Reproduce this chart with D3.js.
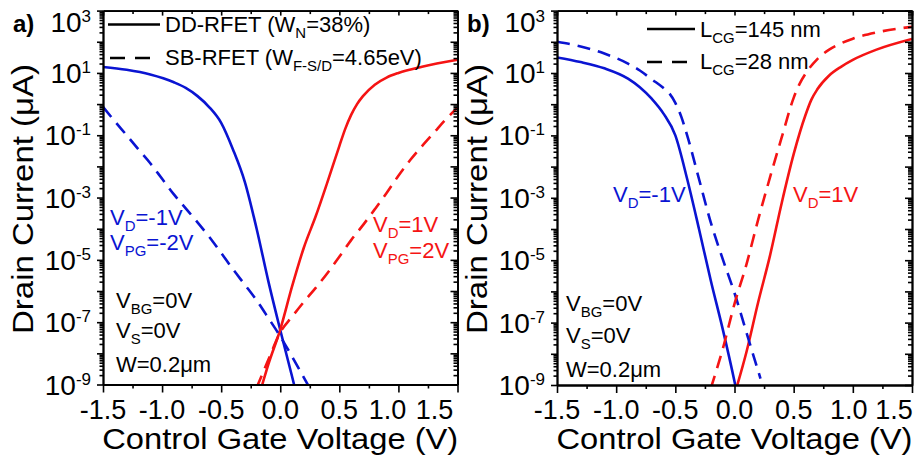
<!DOCTYPE html>
<html>
<head>
<meta charset="utf-8">
<script src="https://cdn.jsdelivr.net/npm/d3@7/dist/d3.min.js"></script>
<style>
  body { margin: 0; background: #fff; }
  svg text { font-family: "Liberation Sans", Arial, sans-serif; }
</style>
</head>
<body>
<svg id="chart" width="921" height="458"></svg>
<script>
// ---- data (drain current in uA vs control gate voltage in V) ----
// panel a) DD-RFET (solid) and SB-RFET (dashed)
var aDDpV = [-1.5, -1.3, -1.1, -0.9, -0.8, -0.7, -0.6, -0.5, -0.4, -0.3, -0.2, -0.1, 0, 0.1, 0.12];
var aDDpI = [15.5, 12.6, 8.9, 5.0, 3.3, 1.8, 0.79, 0.25, 0.035, 3.2e-3, 1.0e-4, 2.0e-6, 5.6e-8, 1.8e-9, 8.9e-10];
var aDDnV = [-0.16, -0.1, 0, 0.1, 0.2, 0.3, 0.4, 0.5, 0.55, 0.6, 0.65, 0.7, 0.8, 0.9, 1.0, 1.2, 1.5];
var aDDnI = [7.9e-10, 4.5e-9, 5.8e-8, 1.4e-6, 2.5e-5, 2.5e-4, 3.2e-3, 0.045, 0.16, 0.45, 1.0, 1.8, 4.2, 7.1, 10, 15.8, 26.3];
var aSBpV = [-1.5, -1.4, -1.3, -1.2, -1.1, -1.0, -0.9, -0.8, -0.7, -0.6, -0.5, -0.4, -0.3, -0.2, -0.1, 0, 0.1, 0.2, 0.25];
var aSBpI = [0.81, 0.28, 0.1, 0.035, 0.0126, 4.0e-3, 1.26e-3, 4.5e-4, 1.6e-4, 5.4e-5, 1.66e-5, 5.0e-6, 1.6e-6, 5.0e-7, 1.35e-7, 3.5e-8, 7.9e-9, 1.66e-9, 7.6e-10];
var aSBnV = [-0.2, -0.1, 0, 0.1, 0.2, 0.3, 0.4, 0.5, 0.6, 0.7, 0.8, 0.9, 1.0, 1.1, 1.2, 1.3, 1.4, 1.5];
var aSBnI = [7.9e-10, 6.3e-9, 4.7e-8, 1.5e-7, 4.5e-7, 1.26e-6, 3.8e-6, 1.26e-5, 4.3e-5, 1.3e-4, 4.2e-4, 1.4e-3, 5.0e-3, 0.016, 0.045, 0.12, 0.32, 0.76];

// panel b) L_CG = 145 nm (solid) and 28 nm (dashed)
var bLongPV = [-1.5, -1.3, -1.1, -0.9, -0.8, -0.7, -0.6, -0.5, -0.4, -0.3, -0.2, -0.1, 0, 0.02];
var bLongPI = [31.6, 22.4, 14.1, 6.6, 3.5, 1.5, 0.5, 0.1, 4.0e-3, 1.0e-4, 2.2e-6, 6.3e-8, 1.3e-9, 5.6e-10];
var bShortPV = [-1.5, -1.3, -1.1, -0.9, -0.8, -0.7, -0.6, -0.55, -0.5, -0.45, -0.4, -0.3, -0.2, -0.1, 0, 0.1, 0.2, 0.22];
var bShortPI = [100, 71, 42, 20, 12, 6.3, 3.3, 2.2, 1.1, 0.4, 0.1, 4.0e-3, 1.6e-4, 1.1e-5, 8.9e-7, 5.0e-8, 2.8e-9, 1.6e-9];
var bLongNV = [0.02, 0.1, 0.2, 0.3, 0.4, 0.5, 0.6, 0.65, 0.7, 0.8, 0.9, 1.0, 1.2, 1.5];
var bLongNI = [8.9e-10, 1.1e-8, 4.5e-7, 1.4e-5, 7.1e-4, 0.025, 0.45, 1.4, 3.0, 8.3, 15.8, 26.3, 56, 123];
var bShortNV = [-0.2, -0.1, 0, 0.1, 0.2, 0.3, 0.4, 0.5, 0.55, 0.6, 0.7, 0.8, 0.9, 1.0, 1.2, 1.5];
var bShortNI = [7.9e-10, 1.4e-8, 4.0e-7, 7.1e-6, 2.0e-4, 4.5e-3, 0.089, 1.6, 4.5, 9.5, 28, 56, 89, 126, 200, 302];

// axis ticks
var xTicks = [-1.5, -1.0, -0.5, 0.0, 0.5, 1.0, 1.5];
var yExps = [-9, -7, -5, -3, -1, 1, 3];

var BLUE = "#0a14d2";
var RED = "#f51414";
var svg = d3.select("#chart");
svg.append("rect").attr("width", 921).attr("height", 458).attr("fill", "#fff");

function zip(v, i) {
  return v.map(function(d, k) { return {v: d, i: i[k]}; });
}

// text with alternating normal / subscript parts: ["V", "D", "=-1V"]
function richText(g, x, y, parts, size, color) {
  var t = g.append("text").attr("x", x).attr("y", y)
    .attr("font-size", size).attr("fill", color);
  var shift = Math.round(size * 0.28);
  parts.forEach(function(p, k) {
    if (!p) return;
    var s = t.append("tspan").text(p);
    if (k % 2 == 1) {
      s.attr("font-size", size * 0.68).attr("dy", shift);
    } else if (k > 0) {
      s.attr("dy", -shift);
    }
  });
  return t;
}

function drawPanel(p) {
  var x = d3.scaleLinear().domain([-1.5, 1.5]).range([p.left, p.right]);
  var y = d3.scaleLog().domain([1e-9, 1e3]).range([p.bottom, p.top]);
  var g = svg.append("g");

  var clipId = "clip" + p.name;
  svg.append("clipPath").attr("id", clipId)
    .append("rect").attr("x", p.left).attr("y", p.top)
    .attr("width", p.right - p.left).attr("height", p.bottom - p.top);

  var line = d3.line()
    .x(function(d) { return x(d.v); })
    .y(function(d) { return y(d.i); })
    .curve(d3.curveMonotoneX);

  var curves = g.append("g").attr("clip-path", "url(#" + clipId + ")");
  p.series.forEach(function(s) {
    curves.append("path")
      .datum(zip(s.v, s.i))
      .attr("d", line)
      .attr("fill", "none")
      .attr("stroke", s.color)
      .attr("stroke-width", 2.6)
      .attr("stroke-dasharray", s.dashed ? "13,8" : null);
  });

  // minor tick values
  var yMinor = [];
  for (var e = -9; e < 3; e++) {
    for (var m = 2; m <= 9; m++) yMinor.push(m * Math.pow(10, e));
  }
  var yMajor = d3.range(-9, 4).map(function(e) { return Math.pow(10, e); });
  var xMinor = d3.range(-1.25, 1.5, 0.5);

  // bottom
  g.append("g").attr("class", "x-axis")
    .attr("transform", "translate(0," + p.bottom + ")")
    .call(d3.axisBottom(x).tickValues(xTicks).tickSize(8).tickSizeOuter(0).tickFormat(""));
  g.append("g").attr("transform", "translate(0," + p.bottom + ")")
    .call(d3.axisBottom(x).tickValues(xMinor).tickSize(4).tickSizeOuter(0).tickFormat(""));
  // top (ticks pointing in)
  g.append("g").attr("transform", "translate(0," + p.top + ")")
    .call(d3.axisBottom(x).tickValues(xTicks).tickSize(5).tickSizeOuter(0).tickFormat(""));
  g.append("g").attr("transform", "translate(0," + p.top + ")")
    .call(d3.axisBottom(x).tickValues(xMinor).tickSize(3.5).tickSizeOuter(0).tickFormat(""));
  // left
  g.append("g").attr("transform", "translate(" + p.left + ",0)")
    .call(d3.axisLeft(y).tickValues(yMajor).tickSize(6).tickSizeOuter(0).tickFormat(""));
  g.append("g").attr("transform", "translate(" + p.left + ",0)")
    .call(d3.axisLeft(y).tickValues(yMinor).tickSize(3.5).tickSizeOuter(0).tickFormat(""));
  // right (ticks pointing in)
  g.append("g").attr("transform", "translate(" + p.right + ",0)")
    .call(d3.axisLeft(y).tickValues(yMajor).tickSize(7).tickSizeOuter(0).tickFormat(""));
  g.append("g").attr("transform", "translate(" + p.right + ",0)")
    .call(d3.axisLeft(y).tickValues(yMinor).tickSize(4).tickSizeOuter(0).tickFormat(""));

  g.selectAll(".domain").attr("stroke", "#000").attr("stroke-width", 1.8);
  g.selectAll(".tick line").attr("stroke", "#000").attr("stroke-width", 1.6);

  // x tick labels (the last two are pulled left, as in the original)
  g.selectAll(".xlab").data(xTicks).enter().append("text")
    .attr("x", function(d, k) { return x(d) + p.labelShift[k]; })
    .attr("y", p.bottom + 34)
    .attr("text-anchor", "middle")
    .attr("font-size", 27)
    .text(function(d) { return d.toFixed(1); });

  // y tick labels 10^n
  yExps.forEach(function(e) {
    var yy = Math.max(y(Math.pow(10, e)) + 10, 32);
    var t = g.append("text").attr("x", p.left - 12).attr("y", yy)
      .attr("text-anchor", "end").attr("font-size", 28);
    t.append("tspan").text("10");
    t.append("tspan").attr("font-size", 17).attr("dy", -10).text(e);
  });

  // axis titles
  g.append("text")
    .attr("x", (p.left + p.right) / 2).attr("y", p.bottom + 64)
    .attr("text-anchor", "middle").attr("font-size", 29)
    .attr("textLength", 356).attr("lengthAdjust", "spacingAndGlyphs")
    .text("Control Gate Voltage (V)");
  g.append("text")
    .attr("transform", "translate(" + (p.left - 70) + "," + 199 + ") rotate(-90)")
    .attr("text-anchor", "middle").attr("font-size", 30)
    .attr("textLength", 270).attr("lengthAdjust", "spacingAndGlyphs")
    .text("Drain Current (\u03BCA)");

  // panel letter
  g.append("text").attr("x", p.left - 90).attr("y", 32)
    .attr("font-size", 24).attr("font-weight", "bold").text(p.name + ")");

  // legend
  p.legend.forEach(function(l) {
    g.append("line")
      .attr("x1", l.x1).attr("x2", l.x2).attr("y1", l.y).attr("y2", l.y)
      .attr("stroke", "#000").attr("stroke-width", 2.6)
      .attr("stroke-dasharray", l.dashed ? "15,10" : null);
    richText(g, l.tx, l.ty, l.parts, 22, "#000");
  });

  // annotations
  p.notes.forEach(function(n) {
    richText(g, n.x, n.y, n.parts, 22, n.color);
  });
}

drawPanel({
  name: "a", left: 103, right: 457.5, top: 10.6, bottom: 384.5,
  labelShift: [0, 0, 0, 0, 0, -11, -23],
  series: [
    {v: aDDpV, i: aDDpI, color: BLUE, dashed: false},
    {v: aDDnV, i: aDDnI, color: RED, dashed: false},
    {v: aSBpV, i: aSBpI, color: BLUE, dashed: true},
    {v: aSBnV, i: aSBnI, color: RED, dashed: true}
  ],
  legend: [
    {x1: 108, x2: 160, y: 24.5, dashed: false, tx: 165, ty: 32, parts: ["DD-RFET (W", "N", "=38%)"]},
    {x1: 110, x2: 160, y: 58, dashed: true, tx: 165, ty: 65, parts: ["SB-RFET (W", "F-S/D", "=4.65eV)"]}
  ],
  notes: [
    {x: 110, y: 225, color: BLUE, parts: ["V", "D", "=-1V"]},
    {x: 110, y: 250, color: BLUE, parts: ["V", "PG", "=-2V"]},
    {x: 373, y: 232, color: RED, parts: ["V", "D", "=1V"]},
    {x: 373, y: 258, color: RED, parts: ["V", "PG", "=2V"]},
    {x: 116, y: 308, color: "#000", parts: ["V", "BG", "=0V"]},
    {x: 116, y: 338, color: "#000", parts: ["V", "S", "=0V"]},
    {x: 116, y: 372, color: "#000", parts: ["W=0.2\u03BCm"]}
  ]
});

drawPanel({
  name: "b", left: 557, right: 912, top: 10.6, bottom: 385,
  labelShift: [0, 0, 0, 0, 0, -4, -18],
  series: [
    {v: bLongPV, i: bLongPI, color: BLUE, dashed: false},
    {v: bLongNV, i: bLongNI, color: RED, dashed: false},
    {v: bShortPV, i: bShortPI, color: BLUE, dashed: true},
    {v: bShortNV, i: bShortNI, color: RED, dashed: true}
  ],
  legend: [
    {x1: 647, x2: 695, y: 29, dashed: false, tx: 700, ty: 37, parts: ["L", "CG", "=145 nm"]},
    {x1: 647, x2: 695, y: 62, dashed: true, tx: 700, ty: 69, parts: ["L", "CG", "=28 nm"]}
  ],
  notes: [
    {x: 613, y: 202, color: BLUE, parts: ["V", "D", "=-1V"]},
    {x: 793, y: 202, color: RED, parts: ["V", "D", "=1V"]},
    {x: 566, y: 311, color: "#000", parts: ["V", "BG", "=0V"]},
    {x: 566, y: 343, color: "#000", parts: ["V", "S", "=0V"]},
    {x: 566, y: 377, color: "#000", parts: ["W=0.2\u03BCm"]}
  ]
});
</script>
</body>
</html>
